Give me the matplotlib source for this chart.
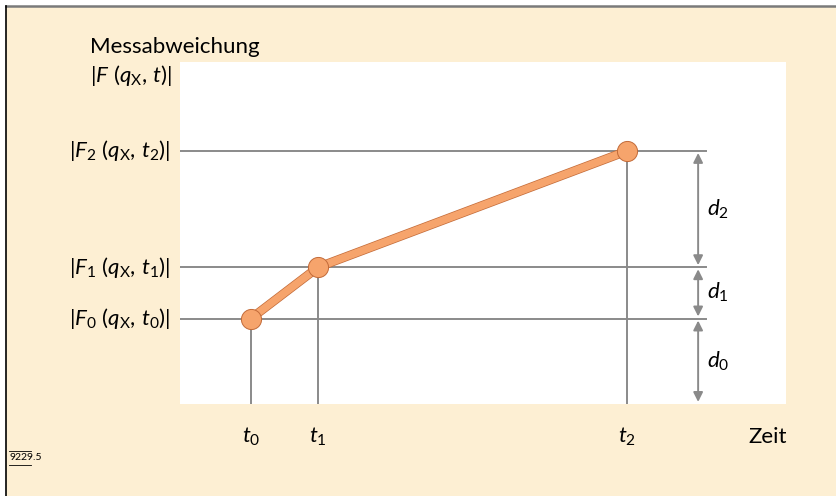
import numpy as np
import matplotlib
matplotlib.use("Agg")
from matplotlib import pyplot as plt
from matplotlib.patches import Rectangle
from matplotlib.lines import Line2D
import matplotlib.patheffects as pe

plt.rcParams['font.family'] = ['Lato', 'DejaVu Sans']
plt.rcParams['mathtext.fontset'] = 'custom'
plt.rcParams['mathtext.rm'] = 'Lato'
plt.rcParams['mathtext.it'] = 'Lato:italic'

# data (arbitrary units)
t_vals = [1.17, 2.28, 7.38]
F_vals = [2.5, 4.0, 7.4]
t_labels = [r'$t_0$', r'$t_1$', r'$t_2$']
F_labels = [r'$|F_0\ (q_\mathrm{X},\, t_0)|$',
            r'$|F_1\ (q_\mathrm{X},\, t_1)|$',
            r'$|F_2\ (q_\mathrm{X},\, t_2)|$']
d_labels = [r'$d_0$', r'$d_1$', r'$d_2$']

cream = '#fdefd3'
gray = '#8a8a8a'
orange = '#f6a46c'
edge = '#c26a38'
fs = 16

fig = plt.figure(figsize=(8.36, 4.96), dpi=100)
fig.patch.set_facecolor('white')
fig.patches.append(Rectangle((6/836, 0), 1, 1 - 6/496, transform=fig.transFigure,
                             facecolor=cream, edgecolor='none', zorder=-10))
fig.lines.append(Line2D([6/836, 1], [1 - 6/496, 1 - 6/496], transform=fig.transFigure,
                        color='#7a7a7a', lw=1.8))
fig.lines.append(Line2D([6/836, 6/836], [0, 1 - 6/496], transform=fig.transFigure,
                        color='black', lw=1.2))

ax = fig.add_axes([180/836, 92/496, 606/836, 342/496])
ax.set_facecolor('white')
ax.set_xlim(0, 10)
ax.set_ylim(0, 10)
for s in ax.spines.values():
    s.set_visible(False)
ax.set_xticks([])
ax.set_yticks([])

x_end = 8.68
x_arrow = 8.55

# horizontal reference lines
for f in F_vals:
    ax.plot([0, x_end], [f, f], color=gray, lw=1.4, zorder=1)
# vertical lines
for t, f in zip(t_vals, F_vals):
    ax.plot([t, t], [0, f], color=gray, lw=1.4, zorder=1)

# curve
ax.plot(t_vals, F_vals, color=orange, lw=5.5, zorder=3, solid_capstyle='round',
        path_effects=[pe.Stroke(linewidth=6.5, foreground=edge), pe.Normal()])
ax.scatter(t_vals, F_vals, s=210, color=orange, edgecolor=edge, linewidth=0.7, zorder=4)

# distance arrows
levels = [0] + F_vals
for i in range(3):
    ax.annotate('', xy=(x_arrow, levels[i] + 0.06), xytext=(x_arrow, levels[i + 1] - 0.06),
                arrowprops=dict(arrowstyle='<|-|>', color=gray, lw=1.4,
                                mutation_scale=14, shrinkA=0, shrinkB=0))
    ax.text(x_arrow + 0.15, (levels[i] + levels[i + 1]) / 2, d_labels[i],
            fontsize=fs, va='center', ha='left')

# axis labels
for f, lab in zip(F_vals, F_labels):
    ax.text(-0.17, f, lab, fontsize=fs, ha='right', va='center')
for t, lab in zip(t_vals, t_labels):
    ax.text(t, -0.97, lab, fontsize=fs, ha='center', va='center')
ax.text(9.7, -0.97, 'Zeit', fontsize=fs, ha='center', va='center')

fig.text(90/836, 1 - 47/496, 'Messabweichung', fontsize=fs, ha='left', va='center')
fig.text(90/836, 1 - 76/496, r'$|F\ (q_\mathrm{X},\, t)|$', fontsize=fs, ha='left', va='center')
fig.text(9/836, 1 - 458/496, '9229.5', fontsize=7.5, ha='left', va='center')
fig.lines.append(Line2D([9/836, 31/836], [1 - 451/496, 1 - 451/496], transform=fig.transFigure,
                        color='black', lw=0.6))
fig.lines.append(Line2D([9/836, 31/836], [1 - 465/496, 1 - 465/496], transform=fig.transFigure,
                        color='black', lw=0.6))

fig.savefig('out.png', dpi=100, facecolor=fig.get_facecolor())
